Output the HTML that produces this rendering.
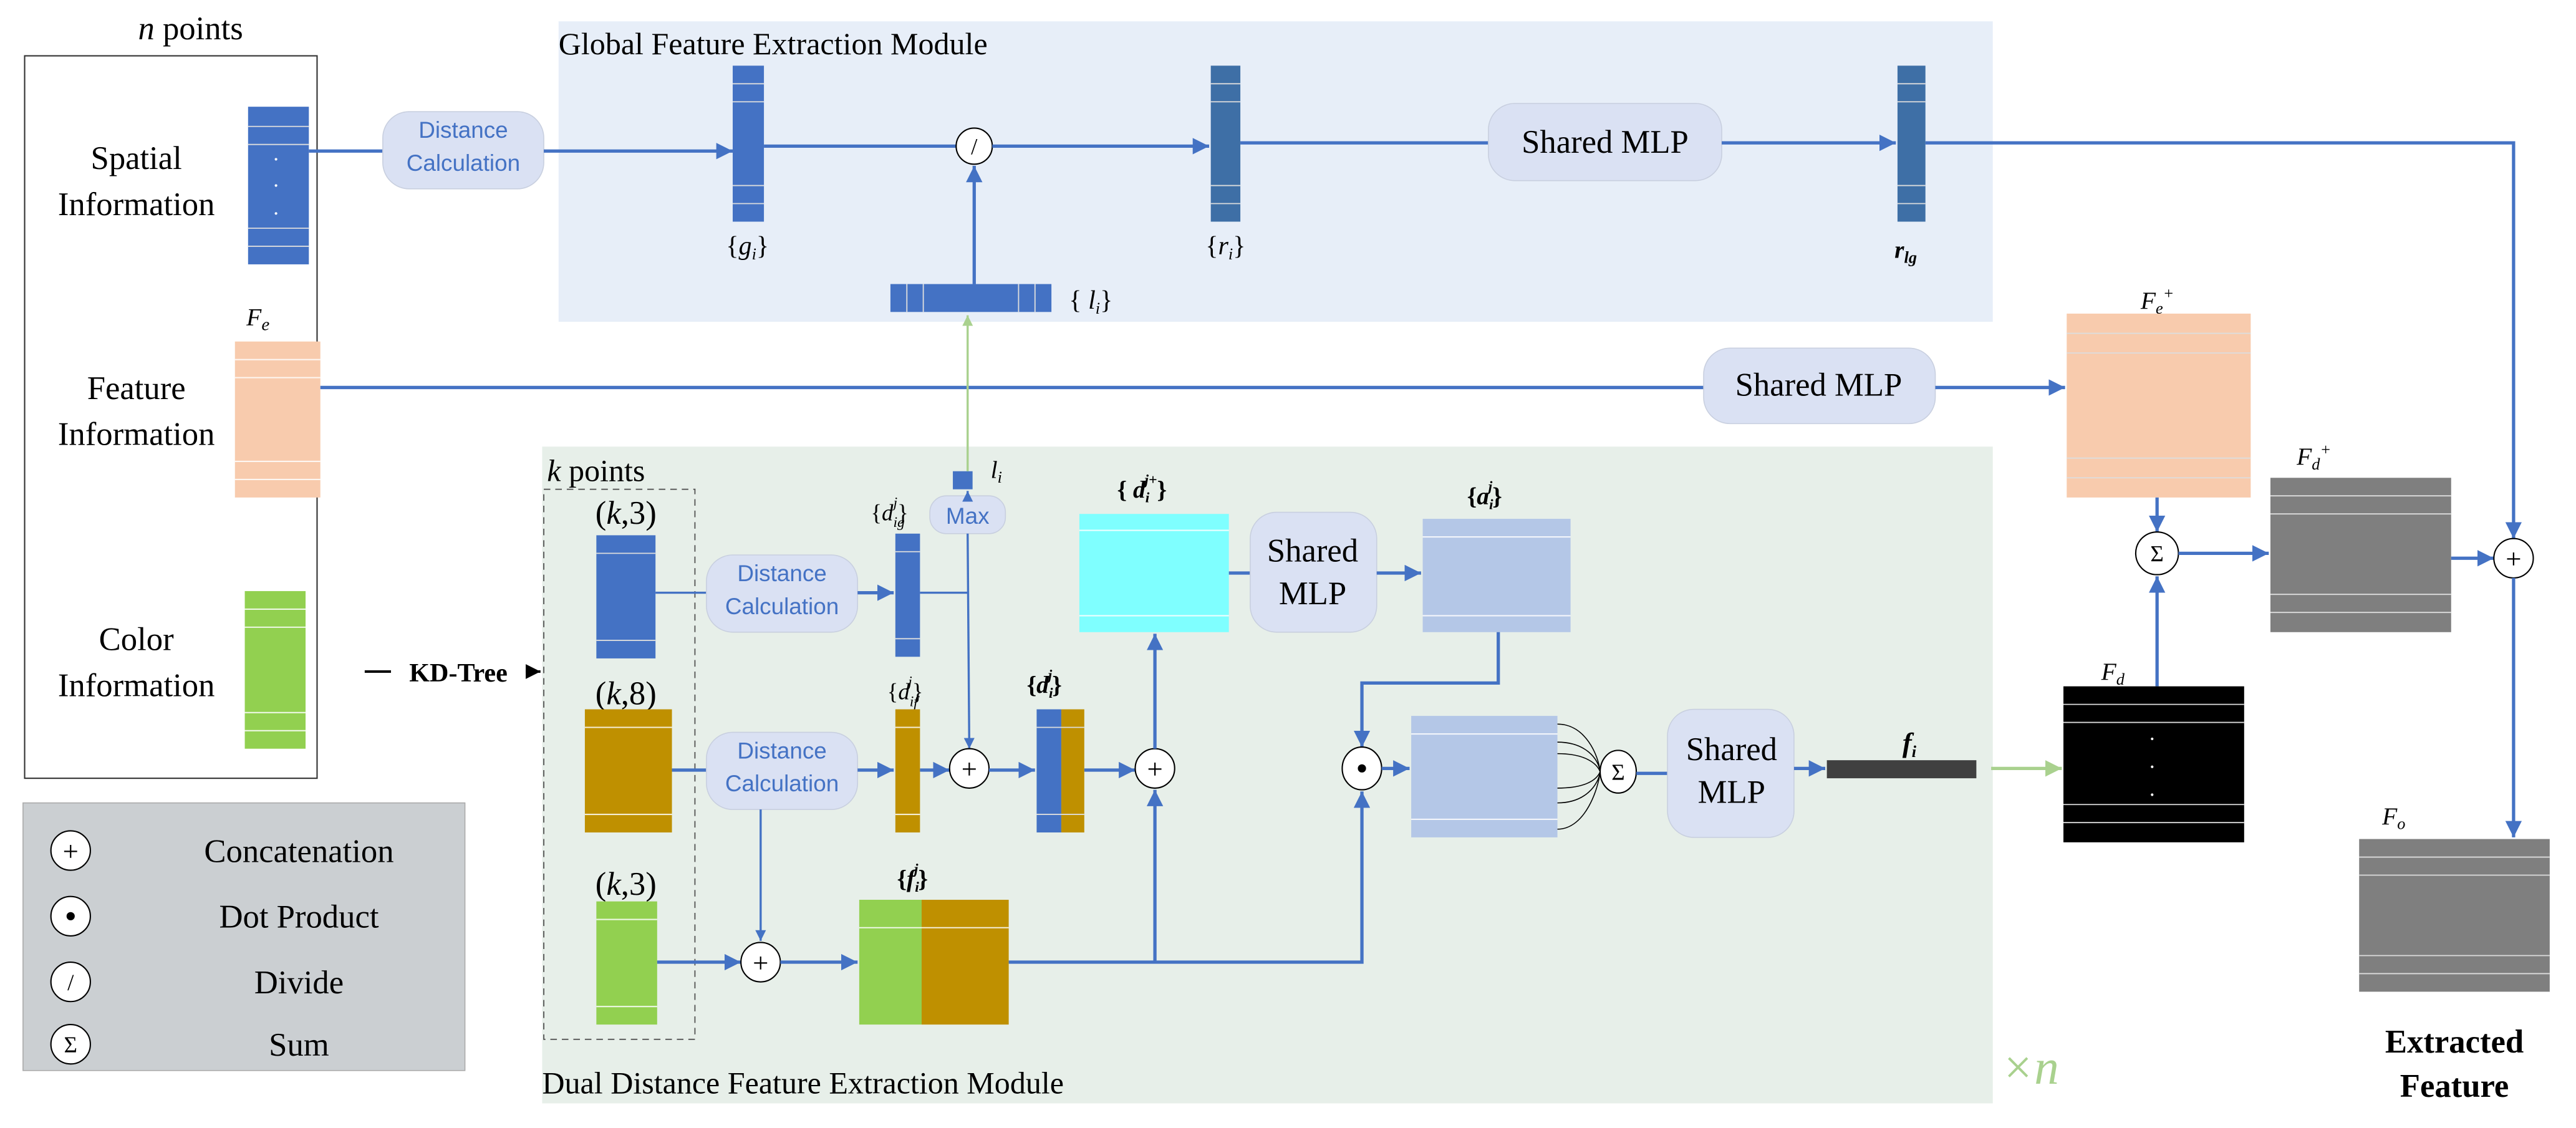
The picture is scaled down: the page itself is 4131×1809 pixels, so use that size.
<!DOCTYPE html>
<html><head><meta charset="utf-8">
<style>
html,body{margin:0;padding:0;background:#fff;}
svg{display:block;font-family:"Liberation Serif",serif;}
text{font-family:"Liberation Serif",serif;fill:#000;}
text.s{font-family:"Liberation Sans",sans-serif;fill:#4472c4;font-size:14px;}
.ln{stroke:#4472c4;stroke-width:2;fill:none;}
.op{fill:#fff;stroke:#000;stroke-width:0.8;}
.w{stroke:#fff;stroke-width:0.8;opacity:0.85;}
.g{stroke:#ddd;stroke-width:0.7;}
</style></head>
<body>
<svg width="4131" height="1809" viewBox="0 0 1568 687" preserveAspectRatio="none" xmlns="http://www.w3.org/2000/svg" font-family="Liberation Serif, serif">
<defs>
<marker id="a" viewBox="0 0 10 10" refX="10" refY="5" markerWidth="5" markerHeight="5" orient="auto"><path d="M0,0L10,5L0,10z" fill="#4472c4"/></marker>
<marker id="ag" viewBox="0 0 10 10" refX="10" refY="5" markerWidth="5" markerHeight="5" orient="auto"><path d="M0,0L10,5L0,10z" fill="#a9d18e"/></marker>
<marker id="ak" viewBox="0 0 10 10" refX="10" refY="5" markerWidth="6" markerHeight="6" orient="auto"><path d="M0,0L10,5L0,10z" fill="#000"/></marker>
</defs>

<rect x="340" y="13" width="873" height="183" fill="#e7eef8"/>
<rect x="330" y="272" width="883" height="400" fill="#e7efe9"/>
<text x="340" y="33" font-size="19" font-family="Liberation Serif, serif">Global Feature Extraction Module</text>
<text x="330" y="666" font-size="19" font-family="Liberation Serif, serif">Dual Distance Feature Extraction Module</text>
<text x="1218" y="660" font-size="30" font-style="italic" font-family="Liberation Serif, serif" style="fill:#a9d18e">×n</text>

<text x="116" y="24" font-size="20" text-anchor="middle" font-family="Liberation Serif, serif"><tspan font-style="italic">n</tspan> points</text>
<rect x="15" y="34" width="178" height="440" fill="#fff" stroke="#333" stroke-width="0.8"/>
<g font-family="Liberation Serif, serif" font-size="20" text-anchor="middle">
<text x="83" y="103">Spatial</text>
<text x="83" y="131">Information</text>
<text x="83" y="243">Feature</text>
<text x="83" y="271">Information</text>
<text x="83" y="396">Color</text>
<text x="83" y="424">Information</text>
</g>

<rect x="151" y="65" width="37" height="96" fill="#4472c4"/>
<line class="g" x1="151" y1="77" x2="188" y2="77"/><line class="g" x1="151" y1="88" x2="188" y2="88"/>
<line class="g" x1="151" y1="139" x2="188" y2="139"/><line class="g" x1="151" y1="150" x2="188" y2="150"/>
<circle cx="168" cy="97" r="0.8" fill="#fff"/><circle cx="168" cy="113" r="0.8" fill="#fff"/><circle cx="168" cy="130" r="0.8" fill="#fff"/>

<text x="150" y="198" font-size="15" font-style="italic">F<tspan font-size="11" dy="3">e</tspan></text>
<rect x="143" y="208" width="52" height="95" fill="#f8cbad"/>
<line class="w" x1="143" y1="219" x2="195" y2="219"/><line class="w" x1="143" y1="230" x2="195" y2="230"/>
<line class="w" x1="143" y1="281" x2="195" y2="281"/><line class="w" x1="143" y1="292" x2="195" y2="292"/>

<rect x="149" y="360" width="37" height="96" fill="#92d050"/>
<line class="w" x1="149" y1="371" x2="186" y2="371"/><line class="w" x1="149" y1="382" x2="186" y2="382"/>
<line class="w" x1="149" y1="434" x2="186" y2="434"/><line class="w" x1="149" y1="445" x2="186" y2="445"/>

<line x1="222" y1="409" x2="238" y2="409" stroke="#000" stroke-width="1.5"/>
<text x="279" y="415" font-size="16" font-weight="bold" text-anchor="middle">KD-Tree</text>
<line x1="320" y1="409" x2="329" y2="409" stroke="#000" stroke-width="1.5" marker-end="url(#ak)"/>

<line class="ln" x1="188" y1="92" x2="233" y2="92"/>
<rect x="233" y="68" width="98" height="47" rx="16" fill="#dae1f3" stroke="#c8cfdf" stroke-width="0.6"/>
<text class="s" x="282" y="84" text-anchor="middle">Distance</text>
<text class="s" x="282" y="104" text-anchor="middle">Calculation</text>
<line class="ln" x1="331" y1="92" x2="446" y2="92" marker-end="url(#a)"/>
<rect x="446" y="40" width="19" height="95" fill="#4472c4"/>
<line class="g" x1="446" y1="51" x2="465" y2="51"/><line class="g" x1="446" y1="62" x2="465" y2="62"/><line class="g" x1="446" y1="113" x2="465" y2="113"/><line class="g" x1="446" y1="124" x2="465" y2="124"/>
<text x="455" y="155" font-size="16" text-anchor="middle">{<tspan font-style="italic">g</tspan><tspan font-size="10" dy="3" font-style="italic">i</tspan><tspan dy="-3">}</tspan></text>
<line class="ln" x1="465" y1="89" x2="582" y2="89"/>
<ellipse class="op" cx="593" cy="89" rx="11" ry="11"/>
<text x="593" y="94" font-size="14" text-anchor="middle">/</text>
<line class="ln" x1="604" y1="89" x2="736" y2="89" marker-end="url(#a)"/>
<rect x="542" y="173" width="98" height="17" fill="#4472c4"/>
<line class="g" x1="552" y1="173" x2="552" y2="190"/><line class="g" x1="562" y1="173" x2="562" y2="190"/><line class="g" x1="620" y1="173" x2="620" y2="190"/><line class="g" x1="630" y1="173" x2="630" y2="190"/>
<text x="664" y="188" font-size="16" text-anchor="middle">{ <tspan font-style="italic">l</tspan><tspan font-size="10" dy="3" font-style="italic">i</tspan><tspan dy="-3">}</tspan></text>
<line class="ln" x1="593" y1="173" x2="593" y2="101" marker-end="url(#a)"/>
<rect x="737" y="40" width="18" height="95" fill="#3e6fa6"/>
<line class="g" x1="737" y1="51" x2="755" y2="51"/><line class="g" x1="737" y1="62" x2="755" y2="62"/><line class="g" x1="737" y1="113" x2="755" y2="113"/><line class="g" x1="737" y1="124" x2="755" y2="124"/>
<text x="746" y="155" font-size="16" text-anchor="middle">{<tspan font-style="italic">r</tspan><tspan font-size="10" dy="3" font-style="italic">i</tspan><tspan dy="-3">}</tspan></text>
<line class="ln" x1="755" y1="87" x2="906" y2="87"/>
<rect x="906" y="63" width="142" height="47" rx="16" fill="#dae1f3" stroke="#c8cfdf" stroke-width="0.6"/>
<text x="977" y="93" font-size="20" text-anchor="middle">Shared MLP</text>
<line class="ln" x1="1048" y1="87" x2="1154" y2="87" marker-end="url(#a)"/>
<rect x="1155" y="40" width="17" height="95" fill="#3e6fa6"/>
<line class="g" x1="1155" y1="51" x2="1172" y2="51"/><line class="g" x1="1155" y1="62" x2="1172" y2="62"/><line class="g" x1="1155" y1="113" x2="1172" y2="113"/><line class="g" x1="1155" y1="124" x2="1172" y2="124"/>
<text x="1160" y="157" font-size="15" font-weight="bold" font-style="italic" text-anchor="middle">r<tspan font-size="10" dy="3">lg</tspan></text>
<polyline class="ln" points="1172,87 1530,87 1530,328" marker-end="url(#a)"/>

<line class="ln" x1="195" y1="236" x2="1037" y2="236"/>
<rect x="1037" y="212" width="141" height="46" rx="16" fill="#dae1f3" stroke="#c8cfdf" stroke-width="0.6"/>
<text x="1107" y="241" font-size="20" text-anchor="middle">Shared MLP</text>
<line class="ln" x1="1178" y1="236" x2="1257" y2="236" marker-end="url(#a)"/>
<text x="1303" y="188" font-size="15" font-style="italic">F<tspan font-size="10" dy="3">e</tspan><tspan font-size="10" dy="-9">+</tspan></text>
<rect x="1258" y="191" width="112" height="112" fill="#f8cbad"/>
<line class="g" x1="1258" y1="203" x2="1370" y2="203"/><line class="g" x1="1258" y1="215" x2="1370" y2="215"/><line class="g" x1="1258" y1="279" x2="1370" y2="279"/><line class="g" x1="1258" y1="291" x2="1370" y2="291"/>
<line class="ln" x1="1313" y1="303" x2="1313" y2="324" marker-end="url(#a)"/>
<ellipse class="op" cx="1313" cy="337" rx="13" ry="13"/>
<text x="1313" y="342" font-size="14" text-anchor="middle">Σ</text>
<line class="ln" x1="1313" y1="418" x2="1313" y2="351" marker-end="url(#a)"/>
<line class="ln" x1="1326" y1="337" x2="1381" y2="337" marker-end="url(#a)"/>
<text x="1398" y="283" font-size="15" font-style="italic">F<tspan font-size="10" dy="3">d</tspan><tspan font-size="10" dy="-9">+</tspan></text>
<rect x="1382" y="291" width="110" height="94" fill="#7f7f7f"/>
<line class="g" x1="1382" y1="302" x2="1492" y2="302"/><line class="g" x1="1382" y1="313" x2="1492" y2="313"/><line class="g" x1="1382" y1="362" x2="1492" y2="362"/><line class="g" x1="1382" y1="373" x2="1492" y2="373"/>
<line class="ln" x1="1492" y1="340" x2="1518" y2="340" marker-end="url(#a)"/>
<ellipse class="op" cx="1530" cy="340" rx="12" ry="12"/>
<text x="1530" y="346" font-size="17" text-anchor="middle">+</text>
<line class="ln" x1="1530" y1="352" x2="1530" y2="510" marker-end="url(#a)"/>
<text x="1279" y="414" font-size="15" font-style="italic">F<tspan font-size="10" dy="3">d</tspan></text>
<rect x="1256" y="418" width="110" height="95" fill="#000"/>
<line class="g" x1="1256" y1="429" x2="1366" y2="429"/><line class="g" x1="1256" y1="440" x2="1366" y2="440"/><line class="g" x1="1256" y1="490" x2="1366" y2="490"/><line class="g" x1="1256" y1="501" x2="1366" y2="501"/>
<circle cx="1310" cy="450" r="0.8" fill="#fff"/><circle cx="1310" cy="467" r="0.8" fill="#fff"/><circle cx="1310" cy="484" r="0.8" fill="#fff"/>
<text x="1450" y="502" font-size="15" font-style="italic">F<tspan font-size="10" dy="3">o</tspan></text>
<rect x="1436" y="511" width="116" height="93" fill="#7f7f7f"/>
<line class="g" x1="1436" y1="522" x2="1552" y2="522"/><line class="g" x1="1436" y1="533" x2="1552" y2="533"/><line class="g" x1="1436" y1="582" x2="1552" y2="582"/><line class="g" x1="1436" y1="593" x2="1552" y2="593"/>
<text x="1494" y="641" font-size="20" font-weight="bold" text-anchor="middle">Extracted</text>
<text x="1494" y="668" font-size="20" font-weight="bold" text-anchor="middle">Feature</text>

<text x="333" y="293" font-size="19"><tspan font-style="italic">k</tspan> points</text>
<rect x="331" y="298" width="92" height="335" fill="none" stroke="#555" stroke-width="0.7" stroke-dasharray="4,3"/>
<text x="381" y="319" font-size="20" text-anchor="middle">(<tspan font-style="italic">k</tspan>,3)</text>
<rect x="363" y="326" width="36" height="75" fill="#4472c4"/>
<line class="g" x1="363" y1="337" x2="399" y2="337"/><line class="g" x1="363" y1="390" x2="399" y2="390"/>
<text x="381" y="429" font-size="20" text-anchor="middle">(<tspan font-style="italic">k</tspan>,8)</text>
<rect x="356" y="432" width="53" height="75" fill="#bf9000"/>
<line class="w" x1="356" y1="443" x2="409" y2="443"/><line class="w" x1="356" y1="496" x2="409" y2="496"/>
<text x="381" y="545" font-size="20" text-anchor="middle">(<tspan font-style="italic">k</tspan>,3)</text>
<rect x="363" y="549" width="37" height="75" fill="#92d050"/>
<line class="w" x1="363" y1="560" x2="400" y2="560"/><line class="w" x1="363" y1="613" x2="400" y2="613"/>

<line class="ln" x1="399" y1="361" x2="430" y2="361" style="stroke-width:1.3"/>
<rect x="430" y="338" width="92" height="47" rx="16" fill="#dae1f3" stroke="#c8cfdf" stroke-width="0.6"/>
<text class="s" x="476" y="354" text-anchor="middle">Distance</text>
<text class="s" x="476" y="374" text-anchor="middle">Calculation</text>
<line class="ln" x1="522" y1="361" x2="544" y2="361" marker-end="url(#a)"/>
<line class="ln" x1="409" y1="469" x2="430" y2="469"/>
<rect x="430" y="446" width="92" height="47" rx="16" fill="#dae1f3" stroke="#c8cfdf" stroke-width="0.6"/>
<text class="s" x="476" y="462" text-anchor="middle">Distance</text>
<text class="s" x="476" y="482" text-anchor="middle">Calculation</text>
<line class="ln" x1="522" y1="469" x2="544" y2="469" marker-end="url(#a)"/>

<text x="530" y="317" font-size="14">{<tspan font-style="italic">d</tspan><tspan font-size="9" font-style="italic" dy="4">ig</tspan><tspan font-size="9" font-style="italic" dx="-7" dy="-12">j</tspan><tspan dy="8">}</tspan></text>
<rect x="545" y="325" width="15" height="75" fill="#4472c4"/>
<line class="g" x1="545" y1="336" x2="560" y2="336"/><line class="g" x1="545" y1="389" x2="560" y2="389"/>
<text x="540" y="426" font-size="14">{<tspan font-style="italic">d</tspan><tspan font-size="9" font-style="italic" dy="4">if</tspan><tspan font-size="9" font-style="italic" dx="-6" dy="-12">j</tspan><tspan dy="8">}</tspan></text>
<rect x="545" y="432" width="15" height="75" fill="#bf9000"/>
<line class="w" x1="545" y1="443" x2="560" y2="443"/><line class="w" x1="545" y1="496" x2="560" y2="496"/>

<rect x="566" y="302" width="46" height="23" rx="10" fill="#dae1f3" stroke="#c8cfdf" stroke-width="0.6"/>
<text class="s" x="589" y="319" text-anchor="middle">Max</text>
<line class="ln" x1="589" y1="302" x2="589" y2="299" marker-end="url(#a)" style="stroke-width:1.3"/>
<rect x="580" y="287" width="12" height="11" fill="#4472c4"/>
<text x="603" y="291" font-size="15" font-style="italic">l<tspan font-size="10" dy="3">i</tspan></text>
<line x1="589" y1="287" x2="589" y2="192" stroke="#a9d18e" stroke-width="1.3" marker-end="url(#ag)"/>
<line class="ln" x1="560" y1="361" x2="589" y2="361" style="stroke-width:1.3"/>
<line class="ln" x1="589" y1="325" x2="590" y2="456" marker-end="url(#a)" style="stroke-width:1.3"/>
<line class="ln" x1="560" y1="469" x2="578" y2="469" marker-end="url(#a)"/>
<ellipse class="op" cx="590" cy="468" rx="12" ry="12"/>
<text x="590" y="474" font-size="17" text-anchor="middle">+</text>
<line class="ln" x1="602" y1="469" x2="630" y2="469" marker-end="url(#a)"/>
<text x="625" y="422" font-size="15" font-weight="bold">{<tspan font-style="italic">d</tspan><tspan font-size="9" font-style="italic" dy="3">i</tspan><tspan font-size="9" font-style="italic" dx="-3" dy="-11">j</tspan><tspan dy="8">}</tspan></text>
<rect x="631" y="432" width="15" height="75" fill="#4472c4"/>
<rect x="646" y="432" width="14" height="75" fill="#bf9000"/>
<line class="g" x1="631" y1="443" x2="660" y2="443"/><line class="g" x1="631" y1="496" x2="660" y2="496"/>
<line class="ln" x1="660" y1="469" x2="691" y2="469" marker-end="url(#a)"/>
<ellipse class="op" cx="703" cy="468" rx="12" ry="12"/>
<text x="703" y="474" font-size="17" text-anchor="middle">+</text>
<line class="ln" x1="703" y1="456" x2="703" y2="386" marker-end="url(#a)"/>
<text x="680" y="303" font-size="15" font-weight="bold">{ <tspan font-style="italic">d</tspan><tspan font-size="9" font-style="italic" dy="3">i</tspan><tspan font-size="9" font-style="italic" dx="-3" dy="-11">j+</tspan><tspan dy="8">}</tspan></text>
<rect x="657" y="313" width="91" height="72" fill="#7fffff"/>
<line class="w" x1="657" y1="323" x2="748" y2="323"/><line class="w" x1="657" y1="375" x2="748" y2="375"/>
<line class="ln" x1="748" y1="349" x2="761" y2="349"/>
<rect x="761" y="312" width="77" height="73" rx="16" fill="#dae1f3" stroke="#c8cfdf" stroke-width="0.6"/>
<text x="799" y="342" font-size="20" text-anchor="middle">Shared</text>
<text x="799" y="368" font-size="20" text-anchor="middle">MLP</text>
<line class="ln" x1="838" y1="349" x2="865" y2="349" marker-end="url(#a)"/>
<text x="893" y="307" font-size="15" font-weight="bold">{<tspan font-style="italic">a</tspan><tspan font-size="9" font-style="italic" dy="3">i</tspan><tspan font-size="9" font-style="italic" dx="-3" dy="-11">j</tspan><tspan dy="8">}</tspan></text>
<rect x="866" y="316" width="90" height="69" fill="#b4c7e7"/>
<line class="w" x1="866" y1="327" x2="956" y2="327"/><line class="w" x1="866" y1="375" x2="956" y2="375"/>
<polyline class="ln" points="912,385 912,416 829,416 829,455" marker-end="url(#a)"/>
<ellipse class="op" cx="829" cy="468" rx="12" ry="13"/>
<circle cx="829" cy="468" r="2.5" fill="#000"/>
<line class="ln" x1="841" y1="468" x2="858" y2="468" marker-end="url(#a)"/>
<rect x="859" y="436" width="89" height="74" fill="#b4c7e7"/>
<line class="w" x1="859" y1="447" x2="948" y2="447"/><line class="w" x1="859" y1="499" x2="948" y2="499"/>
<g fill="none" stroke="#000" stroke-width="0.6">
<path d="M948,441 C965,441 973,460 974,470"/>
<path d="M948,452 C965,452 973,462 974,470"/>
<path d="M948,459 C965,459 972,465 974,470"/>
<path d="M948,480 C965,480 972,475 974,470"/>
<path d="M948,489 C965,489 973,478 974,470"/>
<path d="M948,505 C965,505 973,480 974,470"/>
</g>
<ellipse class="op" cx="985" cy="470" rx="11" ry="13"/>
<text x="985" y="475" font-size="14" text-anchor="middle">Σ</text>
<line class="ln" x1="996" y1="471" x2="1015" y2="471"/>
<rect x="1015" y="432" width="77" height="78" rx="16" fill="#dae1f3" stroke="#c8cfdf" stroke-width="0.6"/>
<text x="1054" y="463" font-size="20" text-anchor="middle">Shared</text>
<text x="1054" y="489" font-size="20" text-anchor="middle">MLP</text>
<line class="ln" x1="1092" y1="468" x2="1111" y2="468" marker-end="url(#a)"/>
<text x="1158" y="458" font-size="17" font-weight="bold" font-style="italic">f<tspan font-size="10" dy="3">i</tspan></text>
<rect x="1112" y="463" width="91" height="11" fill="#404040"/>
<line x1="1212" y1="468" x2="1255" y2="468" stroke="#a9d18e" stroke-width="2" marker-end="url(#ag)"/>

<line class="ln" x1="463" y1="493" x2="463" y2="573" marker-end="url(#a)" style="stroke-width:1.3"/>
<line class="ln" x1="400" y1="586" x2="451" y2="586" marker-end="url(#a)"/>
<ellipse class="op" cx="463" cy="586" rx="12" ry="12"/>
<text x="463" y="592" font-size="17" text-anchor="middle">+</text>
<line class="ln" x1="475" y1="586" x2="522" y2="586" marker-end="url(#a)"/>
<text x="546" y="540" font-size="15" font-weight="bold">{<tspan font-style="italic">f</tspan><tspan font-size="9" font-style="italic" dy="3">i</tspan><tspan font-size="9" font-style="italic" dx="-3" dy="-11">j</tspan><tspan dy="8">}</tspan></text>
<rect x="523" y="548" width="38" height="76" fill="#92d050"/>
<rect x="561" y="548" width="53" height="76" fill="#bf9000"/>
<line class="w" x1="523" y1="565" x2="614" y2="565"/>
<polyline class="ln" points="614,586 829,586 829,482" marker-end="url(#a)"/>
<line class="ln" x1="703" y1="586" x2="703" y2="481" marker-end="url(#a)"/>

<rect x="14" y="489" width="269" height="163" fill="#cbcfd2" stroke="#aaa" stroke-width="0.6"/>
<ellipse class="op" cx="43" cy="518" rx="12" ry="12"/><text x="43" y="524" font-size="17" text-anchor="middle">+</text>
<ellipse class="op" cx="43" cy="558" rx="12" ry="12"/><circle cx="43" cy="558" r="2.5" fill="#000"/>
<ellipse class="op" cx="43" cy="598" rx="12" ry="12"/><text x="43" y="603" font-size="14" text-anchor="middle">/</text>
<ellipse class="op" cx="43" cy="636" rx="12" ry="12"/><text x="43" y="641" font-size="14" text-anchor="middle">Σ</text>
<text x="182" y="525" font-size="20" text-anchor="middle">Concatenation</text>
<text x="182" y="565" font-size="20" text-anchor="middle">Dot Product</text>
<text x="182" y="605" font-size="20" text-anchor="middle">Divide</text>
<text x="182" y="643" font-size="20" text-anchor="middle">Sum</text>
</svg>
</body></html>
